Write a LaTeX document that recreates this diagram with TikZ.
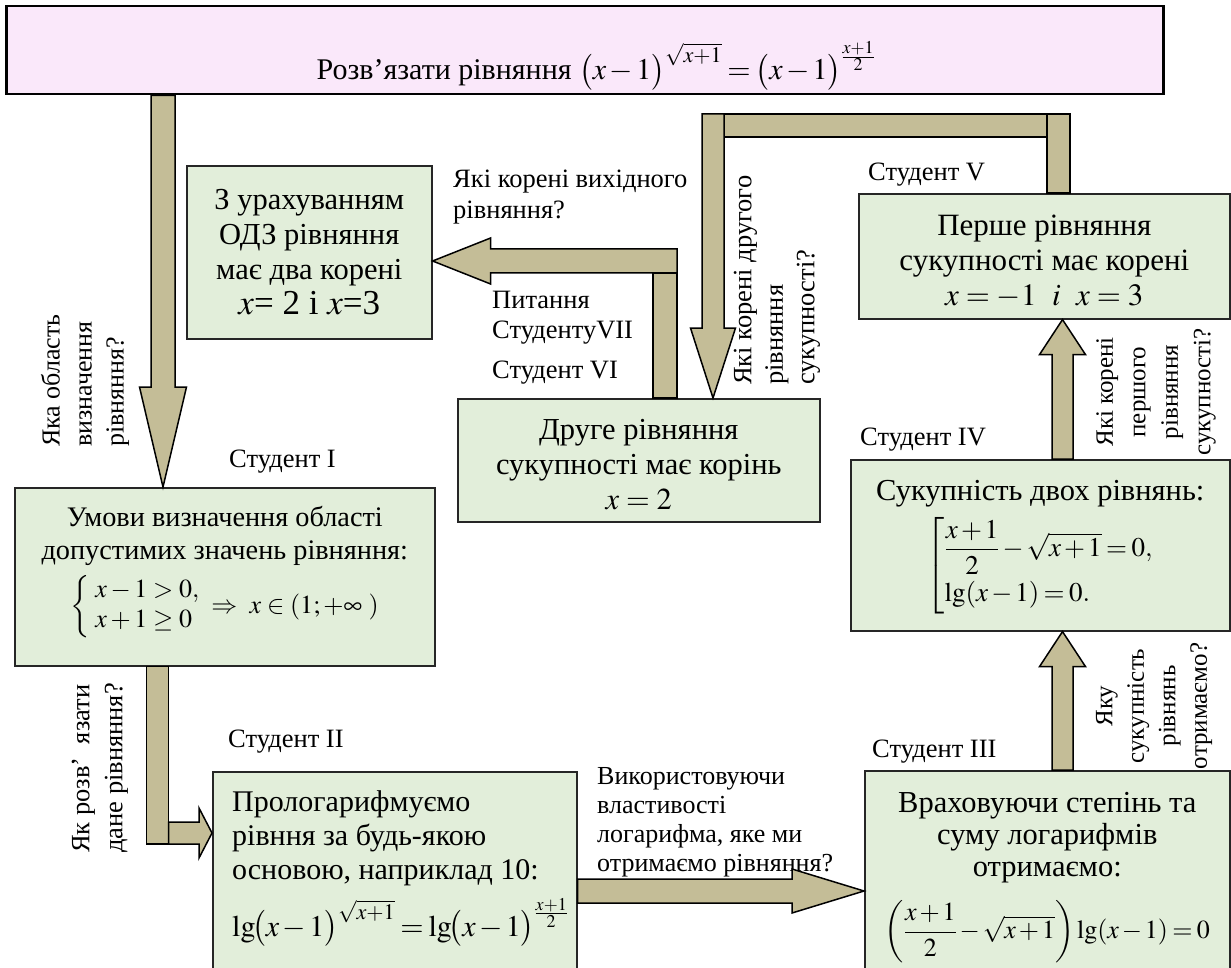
\documentclass[tikz,border=0pt]{standalone}
\usepackage{amsmath}
\usepackage{mathptmx}
\usepackage{fontspec}
\setmainfont{Liberation Serif}
\usetikzlibrary{calc}

\definecolor{taskpink}{RGB}{250,232,250}
\definecolor{stepgreen}{RGB}{226,238,218}
\definecolor{arrowtan}{RGB}{196,189,151}

\tikzset{
  taskbox/.style={draw=black, line width=2.5pt, fill=taskpink, inner sep=0pt, anchor=north west},
  stepbox/.style={draw=black!85, line width=1.6pt, fill=stepgreen, inner sep=0pt, anchor=north west},
  blockarrow/.style={draw=black, line width=1.5pt, fill=arrowtan, line join=miter},
  steptext/.style={font=\fontsize{30.5}{35}\selectfont, align=center, inner sep=0pt},
  tightmath/.style={execute at begin node={\medmuskip=2mu plus 1mu\thickmuskip=3mu plus 2mu}},
  studentlabel/.style={font=\fontsize{26.5}{30}\selectfont, anchor=west, inner sep=0pt},
  question/.style={font=\fontsize{26.5}{31}\selectfont, align=left, inner sep=0pt},
}

\begin{document}
\begin{tikzpicture}[x=1pt,y=-1pt]
\useasboundingbox (0,0) rectangle (1231,968);

% Questions
\node[question, rotate=90, anchor=west, font=\fontsize{26}{32}\selectfont] (q1) at (85,447) {Яка область\\визначення\\рівняння?};
\node[question, rotate=90, anchor=west, font=\fontsize{26.5}{33}\selectfont] (q2) at (100,853) {Як розв’~ язати\\дане рівняння?};
\node[question, anchor=west, font=\fontsize{26}{29}\selectfont] (q3) at (597,822) {Використовуючи\\властивості\\логарифма, яке ми\\отримаємо рівняння?};
\node[question, rotate=90, align=center, font=\fontsize{25}{31.5}\selectfont] (q4) at (1154,706) {Яку\\сукупність\\рівнянь\\отримаємо?};
\node[question, rotate=90, align=center, font=\fontsize{25}{32.5}\selectfont] (q5) at (1156,392) {Які корені\\першого\\рівняння\\сукупності?};
\node[question, rotate=90, anchor=west, font=\fontsize{26.5}{31.5}\selectfont] (q6) at (777,385) {Які корені другого\\рівняння\\сукупності?};
\node[question, anchor=west] (q7) at (453,197) {Які корені вихідного\\рівняння?};
\node[question, anchor=west, font=\fontsize{26.5}{30}\selectfont] (ask7) at (492,318) {Питання\\СтудентуVII};

% Students
\node[studentlabel] (lblI) at (229,462) {Студент I};
\node[studentlabel] (lblII) at (228,742) {Студент II};
\node[studentlabel] (lblIII) at (872,752) {Студент III};
\node[studentlabel] (lblIV) at (860,440) {Студент IV};
\node[studentlabel] (lblV) at (868,175) {Студент V};
\node[studentlabel] (lblVI) at (492,373) {Студент VI};

% Boxes
\node[taskbox, minimum width=1157, minimum height=88] (task) at (5,5) {};
\node[stepbox, minimum width=245, minimum height=173] (odz) at (186,165) {};
\node[stepbox, minimum width=420, minimum height=178] (stI) at (14,487) {};
\node[stepbox, minimum width=364, minimum height=200] (stII) at (212,771) {};
\node[stepbox, minimum width=365, minimum height=200] (stIII) at (864,770) {};
\node[stepbox, minimum width=379, minimum height=171] (stIV) at (850,459) {};
\node[stepbox, minimum width=371, minimum height=125] (stV) at (858,193) {};
\node[stepbox, minimum width=362, minimum height=123] (stVI) at (457,398) {};

% Box texts
\node[tightmath, font=\fontsize{30}{36}\selectfont, inner sep=0pt] (tasktext) at (596,66) {Розв’язати рівняння $\bigl(x-1\bigr)^{\sqrt{x+1}}=\bigl(x-1\bigr)^{\frac{x+1}{2}}$};
\node[steptext] (odztext) at (odz.center) {З урахуванням\\ОДЗ рівняння\\має два корені\\{\fontsize{35}{40}\selectfont $x$= 2 і $x$=3}};
\node[steptext, anchor=north, font=\fontsize{28.3}{33}\selectfont] (stItext) at ($(stI.north)+(0,19)$) {Умови визначення області\\допустимих значень рівняння:\\[9pt]{\fontsize{26}{30}\selectfont $\left\{\begin{array}{l} x-1>0,\\ x+1\geq 0\end{array}\right.\Rightarrow\ x\in\left(1;+\infty\ \right)$}};
\node[steptext, tightmath, align=left, anchor=north west, font=\fontsize{30}{34}\selectfont] (stIItext) at ($(stII.north west)+(20,19)$) {Прологарифмуємо\\рівння за будь-якою\\основою, наприклад 10:\\[12pt]$\lg\!\bigl(x-1\bigr)^{\sqrt{x+1}}=\lg\!\bigl(x-1\bigr)^{\frac{x+1}{2}}$};
\node[steptext, tightmath, anchor=north, font=\fontsize{30.5}{32}\selectfont] (stIIItext) at ($(stIII.north)+(0,22)$) {Враховуючи степінь та\\суму логарифмів\\отримаємо:\\[17pt]{\fontsize{26}{30}\selectfont $\left(\dfrac{x+1}{2}-\sqrt{x+1}\right)\lg\!\left(x-1\right)=0$}};
\node[steptext, tightmath, anchor=north] (stIVtext) at ($(stIV.north)+(0,21)$) {Сукупність двох рівнянь:\\[9pt]{\fontsize{27}{31}\selectfont $\left[\begin{array}{@{}l@{}}\dfrac{x+1}{2}-\sqrt{x+1}=0,\\ \noalign{\vskip 5pt} \lg\!\left(x-1\right)=0.\end{array}\right.$}};
\node[steptext, font=\fontsize{31}{35}\selectfont] (stVtext) at ($(stV.center)+(0,5)$) {Перше рівняння\\сукупності має корені\\$x=-1\ \ i\ \ x=3$};
\node[steptext] (stVItext) at ($(stVI.center)+(0,4)$) {Друге рівняння\\сукупності має корінь\\$x=2$};

% task -> stI
\coordinate (a1tip) at ($(stI.north west)+(149,0)$);
\coordinate (a1top) at (a1tip |- task.south);
\draw[blockarrow] ($(a1top)+(-12,0)$) -- ($(a1tip)+(-12,-100)$) -- ($(a1tip)+(-23.5,-100)$) -- (a1tip) -- ($(a1tip)+(23.5,-100)$) -- ($(a1tip)+(12,-100)$) -- ($(a1top)+(12,0)$) -- cycle;

% stI -> stII
\coordinate (a2tip) at ($(stII.north west)+(0,62)$);
\coordinate (a2foot) at ($(stI.south west)+(143.5,0)$);
\coordinate (a2bend) at (a2foot |- a2tip);
\draw[blockarrow] ($(a2foot)+(-11,0)$) rectangle ($(a2bend)+(11,11)$);
\draw[blockarrow] ($(a2bend)+(11,-11)$) -- ($(a2tip)+(-13,-11)$) -- ($(a2tip)+(-13,-25)$) -- (a2tip) -- ($(a2tip)+(-13,25)$) -- ($(a2tip)+(-13,11)$) -- ($(a2bend)+(11,11)$) -- cycle;

% stII -> stIII
\coordinate (a3tip) at ($(stIII.north west)+(0,121)$);
\coordinate (a3tail) at (a3tip -| stII.east);
\draw[blockarrow] ($(a3tail)+(0,-12)$) -- ($(a3tip)+(-72,-12)$) -- ($(a3tip)+(-72,-22)$) -- (a3tip) -- ($(a3tip)+(-72,22)$) -- ($(a3tip)+(-72,12)$) -- ($(a3tail)+(0,12)$) -- cycle;

% stIII -> stIV
\coordinate (a4tip) at ($(stIV.south west)+(212.5,0)$);
\coordinate (a4foot) at (a4tip |- stIII.north);
\draw[blockarrow] ($(a4foot)+(-10.5,0)$) -- ($(a4tip)+(-10.5,35)$) -- ($(a4tip)+(-23,35)$) -- (a4tip) -- ($(a4tip)+(23,35)$) -- ($(a4tip)+(10.5,35)$) -- ($(a4foot)+(10.5,0)$) -- cycle;

% stIV -> stV
\coordinate (a5tip) at ($(stV.south west)+(204.5,0)$);
\coordinate (a5foot) at (a5tip |- stIV.north);
\draw[blockarrow] ($(a5foot)+(-10.5,0)$) -- ($(a5tip)+(-10.5,35)$) -- ($(a5tip)+(-23,35)$) -- (a5tip) -- ($(a5tip)+(23,35)$) -- ($(a5tip)+(10.5,35)$) -- ($(a5foot)+(10.5,0)$) -- cycle;

% stV -> stVI
\coordinate (a6tip) at ($(stVI.north west)+(256,0)$);
\coordinate (a6rise) at ($(stV.north west)+(200.5,0)$);
\coordinate (a6right) at ($(a6rise)+(0,-67.5)$);
\coordinate (a6left) at (a6tip |- a6right);
\draw[blockarrow] ($(a6left)+(0,-11.5)$) rectangle ($(a6right)+(0,11.5)$);
\draw[blockarrow] ($(a6rise)+(-11.5,0)$) rectangle ($(a6right)+(11.5,-11.5)$);
\draw[blockarrow] ($(a6left)+(-11,-11.5)$) -- ($(a6tip)+(-11,-70)$) -- ($(a6tip)+(-22.5,-70)$) -- (a6tip) -- ($(a6tip)+(22.5,-70)$) -- ($(a6tip)+(11,-70)$) -- ($(a6left)+(11,-11.5)$) -- cycle;

% stVI -> odz
\coordinate (a7tip) at ($(odz.north east)+(0,96)$);
\coordinate (a7foot) at ($(stVI.north west)+(208,0)$);
\coordinate (a7bend) at (a7foot |- a7tip);
\draw[blockarrow] ($(a7foot)+(-12,0)$) rectangle ($(a7bend)+(12,12)$);
\draw[blockarrow] ($(a7bend)+(12,-12)$) -- ($(a7tip)+(58,-12)$) -- ($(a7tip)+(58,-23)$) -- (a7tip) -- ($(a7tip)+(58,23)$) -- ($(a7tip)+(58,12)$) -- ($(a7bend)+(12,12)$) -- cycle;

\end{tikzpicture}
\end{document}
